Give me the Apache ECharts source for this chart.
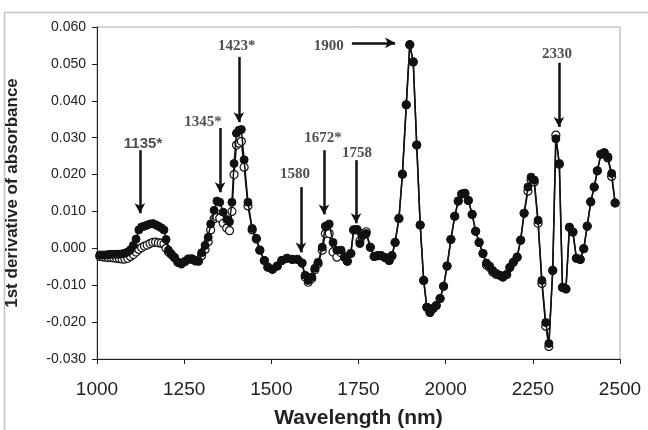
<!DOCTYPE html>
<html><head><meta charset="utf-8">
<script src="https://cdn.jsdelivr.net/npm/echarts@6/dist/echarts.min.js"></script>
<style>html,body{margin:0;padding:0;background:#fff}#c{width:648px;height:430px}</style>
</head><body><div id="c"></div>
<script>
// Wavelength (nm)
const wavelength = [1008,1016,1024,1032,1040,1048,1056,1064,1072,1080,1088,1096,1104,1112,1120,1128,1136,1144,1152,1160,1168,1176,1184,1192,1198,1205,1213,1222,1232,1242,1252,1262,1272,1282,1291,1300,1310,1319,1326,1336,1344,1352,1362,1372,1380,1387,1393,1400,1407,1414,1422,1433,1445,1457,1467,1480,1490,1503,1517,1530,1545,1560,1575,1588,1597,1606,1616,1625,1634,1646,1655,1666,1677,1688,1700,1710,1718,1728,1736,1746,1754,1763,1772,1784,1795,1805,1815,1826,1838,1846,1855,1866,1876,1887,1897,1907,1917,1927,1937,1946,1955,1964,1973,1984,1994,2004,2015,2026,2036,2046,2055,2065,2076,2086,2096,2107,2117,2126,2135,2145,2155,2164,2175,2184,2194,2205,2215,2225,2236,2245,2254,2265,2276,2287,2296,2307,2316,2326,2335,2345,2355,2365,2375,2386,2396,2406,2416,2426,2435,2445,2455,2465,2476,2486];
// Filled-circle spectrum
const filledValues = [-0.0018,-0.0018,-0.0018,-0.0017,-0.0016,-0.0016,-0.0016,-0.0016,-0.0015,-0.0013,-0.0010,-0.0004,0.0008,0.0025,0.0050,0.0058,0.0060,0.0063,0.0066,0.0067,0.0064,0.0060,0.0056,0.0050,0.0024,-0.0005,-0.0015,-0.0025,-0.0038,-0.0042,-0.0036,-0.0029,-0.0028,-0.0032,-0.0034,-0.0012,0.0008,0.0030,0.0066,0.0103,0.0128,0.0125,0.0098,0.0078,0.0072,0.0125,0.0230,0.0312,0.0320,0.0322,0.0240,0.0125,0.0054,0.0027,-0.0005,-0.0033,-0.0051,-0.0057,-0.0048,-0.0033,-0.0027,-0.0030,-0.0030,-0.0040,-0.0073,-0.0087,-0.0078,-0.0054,-0.0038,0.0003,0.0060,0.0066,0.0016,-0.0005,-0.0005,-0.0024,-0.0035,-0.0014,0.0050,0.0051,0.0013,0.0035,0.0040,0.0003,-0.0022,-0.0020,-0.0020,-0.0025,-0.0033,-0.0020,0.0016,0.0081,0.0201,0.0389,0.0552,0.0506,0.0280,0.0063,-0.0087,-0.0160,-0.0174,-0.0163,-0.0155,-0.0136,-0.0103,-0.0048,0.0024,0.0087,0.0128,0.0147,0.0149,0.0130,0.0092,0.0046,0.0016,-0.0014,-0.0040,-0.0048,-0.0060,-0.0068,-0.0073,-0.0078,-0.0071,-0.0052,-0.0038,-0.0024,0.0022,0.0095,0.0166,0.0193,0.0185,0.0076,-0.0087,-0.0201,-0.0258,-0.0060,0.0297,0.0230,-0.0106,-0.0110,0.0057,0.0044,-0.0027,-0.0030,-0.0001,0.0060,0.0126,0.0166,0.0210,0.0255,0.0259,0.0248,0.0203,0.0123];
// Open-circle spectrum
const openValues = [-0.0022,-0.0023,-0.0024,-0.0025,-0.0025,-0.0026,-0.0027,-0.0028,-0.0029,-0.0029,-0.0027,-0.0022,-0.0017,-0.0010,-0.0003,0.0002,0.0006,0.0009,0.0013,0.0016,0.0017,0.0015,0.0014,0.0012,0.0000,-0.0010,-0.0017,-0.0025,-0.0038,-0.0042,-0.0036,-0.0029,-0.0030,-0.0034,-0.0035,-0.0020,-0.0003,0.0018,0.0050,0.0080,0.0085,0.0082,0.0068,0.0055,0.0048,0.0100,0.0200,0.0280,0.0285,0.0290,0.0220,0.0115,0.0050,0.0025,-0.0005,-0.0033,-0.0051,-0.0057,-0.0048,-0.0033,-0.0027,-0.0030,-0.0030,-0.0040,-0.0078,-0.0092,-0.0082,-0.0058,-0.0042,-0.0005,0.0040,0.0040,-0.0010,-0.0024,-0.0012,-0.0024,-0.0035,-0.0014,0.0050,0.0050,0.0020,0.0040,0.0045,0.0003,-0.0022,-0.0020,-0.0020,-0.0025,-0.0033,-0.0020,0.0016,0.0081,0.0201,0.0389,0.0552,0.0505,0.0280,0.0063,-0.0087,-0.0160,-0.0174,-0.0163,-0.0155,-0.0136,-0.0103,-0.0048,0.0024,0.0087,0.0128,0.0147,0.0149,0.0130,0.0092,0.0046,0.0016,-0.0014,-0.0045,-0.0052,-0.0064,-0.0071,-0.0073,-0.0078,-0.0071,-0.0052,-0.0038,-0.0024,0.0022,0.0095,0.0155,0.0185,0.0180,0.0068,-0.0095,-0.0211,-0.0266,-0.0060,0.0307,0.0228,-0.0106,-0.0110,0.0057,0.0044,-0.0027,-0.0030,-0.0001,0.0060,0.0126,0.0166,0.0210,0.0255,0.0259,0.0245,0.0195,0.0123];
// Annotations (band labels and arrows, in data units)
const annoText   = ['1135*','1345*','1423*','1580','1672*','1758','1900','2330'];
const annoSans   = [true,false,false,false,false,false,false,false];
const annoLabelX = [1132,1304,1401,1568,1648,1746,1665,2319];
const annoLabelY = [0.0283,0.0342,0.0549,0.0201,0.0299,0.0258,0.0549,0.0527];
const arrowX1 = [1123,1353,1407,1585,1651,1743,1731,2325];
const arrowY1 = [0.0266,0.0326,0.0519,0.0166,0.0266,0.0239,0.0557,0.0503];
const arrowX2 = [1123,1353,1407,1585,1651,1743,1855,2325];
const arrowY2 = [0.0095,0.0152,0.0342,-0.0011,0.0092,0.0068,0.0557,0.0329];
const xTicks = {min:1000, max:2500, step:250};
const yTicks = {min:-0.03, max:0.06, step:0.01};

const chart = echarts.init(document.getElementById('c'), null, {renderer:'canvas'});
const pair = (vals) => wavelength.map((w,i)=>[w, vals[i]]);
const arrows = annoText.map((t,i)=>[{coord:[arrowX1[i],arrowY1[i]]},{coord:[arrowX2[i],arrowY2[i]]}]);
const labelsFor = (sans) => annoText.map((t,i)=>({value:[annoLabelX[i], annoLabelY[i]], name:t, sans:annoSans[i]}))
  .filter(d=>d.sans===sans).map(d=>({value:d.value, name:d.name}));

chart.setOption({
  animation:false,
  backgroundColor:'#fff',
  graphic:[{type:'rect', shape:{x:4.5, y:12.5, width:660, height:440}, style:{fill:'none', stroke:'#c4c4c4', lineWidth:1.5}, silent:true}],
  grid:{left:97, right:28, top:27, bottom:71, show:true, borderColor:'#a8a8a8', borderWidth:1, containLabel:false, outerBoundsMode:'none'},
  xAxis:{type:'value', min:xTicks.min, max:xTicks.max, interval:xTicks.step,
    name:'Wavelength (nm)', nameLocation:'middle', nameGap:49,
    nameTextStyle:{fontFamily:'Liberation Sans', fontWeight:'bold', fontSize:21, color:'#222'},
    axisLine:{show:true, onZero:false, lineStyle:{color:'#222', width:1}},
    axisTick:{show:true, inside:false, length:5, lineStyle:{color:'#222'}},
    axisLabel:{fontFamily:'Liberation Sans', fontSize:19, color:'#222', margin:21, formatter:v=>String(v)},
    splitLine:{show:false}},
  yAxis:{type:'value', min:yTicks.min, max:yTicks.max, interval:yTicks.step,
    name:'1st derivative of absorbance', nameLocation:'middle', nameGap:76, nameRotate:90,
    nameTextStyle:{fontFamily:'Liberation Sans', fontWeight:'bold', fontSize:17, color:'#222'},
    axisLine:{show:true, onZero:false, lineStyle:{color:'#222', width:1}},
    axisTick:{show:true, inside:false, length:5, lineStyle:{color:'#222'}},
    axisLabel:{fontFamily:'Liberation Sans', fontSize:14, color:'#222', margin:11, formatter:v=>v.toFixed(3)},
    splitLine:{show:false}},
  series:[
    {type:'line', name:'open', data:pair(openValues), symbol:'circle', symbolSize:8, z:2,
     lineStyle:{color:'#111', width:1.5}, itemStyle:{color:'#fff', borderColor:'#111', borderWidth:1.2}},
    {type:'line', name:'filled', data:pair(filledValues), symbol:'circle', symbolSize:8, z:3,
     lineStyle:{color:'#111', width:1.5}, itemStyle:{color:'#111', borderColor:'#111', borderWidth:1}},
    {type:'line', name:'arrows', data:[], z:4,
     markLine:{silent:true, symbol:['none','arrow'], symbolSize:[8,10], label:{show:false},
       lineStyle:{color:'#111', width:2.5, type:'solid'}, data:arrows}},
    {type:'scatter', name:'labelsSerif', data:labelsFor(false), symbolSize:0, z:5, silent:true,
     label:{show:true, position:'inside', formatter:p=>p.name, fontFamily:'Liberation Serif', fontSize:15, fontWeight:'bold', color:'#222'}},
    {type:'scatter', name:'labelsSans', data:labelsFor(true), symbolSize:0, z:5, silent:true,
     label:{show:true, position:'inside', formatter:p=>p.name, fontFamily:'Liberation Sans', fontSize:15, fontWeight:'bold', color:'#222'}}
  ]
});
</script></body></html>
